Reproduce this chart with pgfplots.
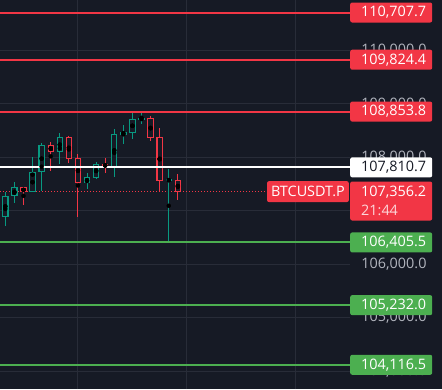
\documentclass[border=0pt]{standalone}
\usepackage{pgfplots}
\pgfplotsset{compat=1.18}
\usepackage{pgfplotstable}
\usepackage{fontspec}
\setmainfont{Open Sans}
\definecolor{bg}{RGB}{22,26,37}
\definecolor{gridc}{RGB}{40,44,56}
\definecolor{tvred}{RGB}{242,54,69}
\definecolor{tvgreen}{RGB}{76,175,80}
\definecolor{cgreen}{RGB}{8,153,129}
\definecolor{tgray}{RGB}{178,181,190}

\pgfplotstableread{
x o h l c
0 106887 107355 106712 107274
1 107268 107536 107137 107437
3 107343 108005 107343 107724
4 107718 108273 107374 108229
6 108092 108454 107880 108379
9 107512 107699 107412 107624
10 107618 107911 107593 107867
12 107824 108529 107636 108435
13 108423 108604 108254 108473
14 108460 108829 108348 108716
15 108700 108853 108623 108735
18 107553 107780 106405 107590
}\greencandles

\pgfplotstableread{
x o h l c
2 107437 107449 107106 107343
5 108229 108285 107749 108092
7 108379 108390 107898 107973
8 107980 108060 106887 107512
11 107867 107986 107711 107824
16 108729 108772 108310 108367
17 108379 108548 107374 107562
19 107568 107686 107206 107356.2
}\redcandles

\tikzset{
  pbox/.style={anchor=west, inner xsep=0pt, inner ysep=0pt, text width=82pt, minimum height=20pt, align=left, rounded corners=2pt, font=\fontsize{14.4}{19}\selectfont},
}

\begin{document}
\begin{tikzpicture}
\path[fill=bg, use as bounding box] (0,0) rectangle (442pt,389pt);
\begin{axis}[
  at={(0,0)}, anchor=south west,
  scale only axis, width=350pt, height=389pt,
  xmin=-0.584, xmax=37.96, ymin=103663.4, ymax=110941.6,
  clip=false,
  axis line style={draw=none}, tick style={draw=none},
  xtick={8,20,32}, xticklabels={},
  ytick={104000,105000,106000,107000,108000,109000,110000},
  yticklabels={{104,000.0},{105,000.0},{106,000.0},{107,000.0},{108,000.0},{109,000.0},{110,000.0}},
  yticklabel pos=right,
  yticklabel style={anchor=east, xshift=80pt, text=tgray, font=\fontsize{14.4}{16}\selectfont},
  grid=major, major grid style={gridc, line width=1pt},
]
% current price dotted line
\addplot[tvred, dotted, line width=1pt, forget plot] coordinates {(-0.584,107356.2) (37.96,107356.2)};

% wicks
\addplot[only marks, mark=none, forget plot, error bars/.cd, y dir=both, y explicit, error mark=none,
  error bar style={cgreen, line width=1pt}]
  table[x=x, y expr={(\thisrow{h}+\thisrow{l})/2}, y error expr={(\thisrow{h}-\thisrow{l})/2}] {\greencandles};
\addplot[only marks, mark=none, forget plot, error bars/.cd, y dir=both, y explicit, error mark=none,
  error bar style={tvred, line width=1pt}]
  table[x=x, y expr={(\thisrow{h}+\thisrow{l})/2}, y error expr={(\thisrow{h}-\thisrow{l})/2}] {\redcandles};
% bodies outer
\addplot[only marks, mark=none, forget plot, error bars/.cd, y dir=both, y explicit, error mark=none,
  error bar style={cgreen, line width=6.4pt}]
  table[x=x, y expr={(\thisrow{o}+\thisrow{c})/2}, y error expr={abs(\thisrow{c}-\thisrow{o})/2}] {\greencandles};
\addplot[only marks, mark=none, forget plot, error bars/.cd, y dir=both, y explicit, error mark=none,
  error bar style={tvred, line width=6.4pt}]
  table[x=x, y expr={(\thisrow{o}+\thisrow{c})/2}, y error expr={abs(\thisrow{c}-\thisrow{o})/2}] {\redcandles};
% bodies inner (hollow)
\addplot[only marks, mark=none, forget plot, error bars/.cd, y dir=both, y explicit, error mark=none,
  error bar style={bg, line width=4.2pt}]
  table[x=x, y expr={(\thisrow{o}+\thisrow{c})/2}, y error expr={max(abs(\thisrow{c}-\thisrow{o})/2-20,0)}] {\greencandles};
\addplot[only marks, mark=none, forget plot, error bars/.cd, y dir=both, y explicit, error mark=none,
  error bar style={bg, line width=4.2pt}]
  table[x=x, y expr={(\thisrow{o}+\thisrow{c})/2}, y error expr={max(abs(\thisrow{c}-\thisrow{o})/2-20,0)}] {\redcandles};

% levels
\addplot[tvred, line width=2pt, forget plot] coordinates {(-0.584,110707.7) (37.96,110707.7)};
\addplot[tvred, line width=2pt, forget plot] coordinates {(-0.584,109824.4) (37.96,109824.4)};
\addplot[tvred, line width=2pt, forget plot] coordinates {(-0.584,108853.8) (37.96,108853.8)};
\addplot[white, line width=2pt, forget plot] coordinates {(-0.584,107810.7) (37.96,107810.7)};
\addplot[tvgreen, line width=2pt, forget plot] coordinates {(-0.584,106405.5) (37.96,106405.5)};
\addplot[tvgreen, line width=2pt, forget plot] coordinates {(-0.584,105232.0) (37.96,105232.0)};
\addplot[tvgreen, line width=2pt, forget plot] coordinates {(-0.584,104116.5) (37.96,104116.5)};

% price labels
\node[pbox, fill=tvred, text=white] at (axis cs:37.96,110707.7) {\hspace*{11pt}110,707.7};
\node[pbox, fill=tvred, text=white] at (axis cs:37.96,109824.4) {\hspace*{11pt}109,824.4};
\node[pbox, fill=tvred, text=white] at (axis cs:37.96,108853.8) {\hspace*{11pt}108,853.8};
\node[pbox, fill=white, text=bg] at (axis cs:37.96,107810.7) {\hspace*{11pt}107,810.7};
\node[pbox, fill=tvgreen, text=white] at (axis cs:37.96,106405.5) {\hspace*{11pt}106,405.5};
\node[pbox, fill=tvgreen, text=white] at (axis cs:37.96,105232.0) {\hspace*{11pt}105,232.0};
\node[pbox, fill=tvgreen, text=white] at (axis cs:37.96,104116.5) {\hspace*{11pt}104,116.5};
\node[pbox, anchor=north west, minimum height=39pt, fill=tvred, text=white, yshift=10.3pt] at (axis cs:37.96,107356.2)
  {\hspace*{11pt}107,356.2\\\hspace*{11pt}{\color{white!80!tvred}21:44}};
\node[anchor=east, fill=tvred, text=white, rounded corners=2pt, minimum height=21pt, inner xsep=4pt, inner ysep=0pt, xshift=-1pt,
  font=\fontsize{14.4}{16}\selectfont] at (axis cs:37.96,107356.2) {BTCUSDT.P};
\end{axis}
\end{tikzpicture}
\end{document}
